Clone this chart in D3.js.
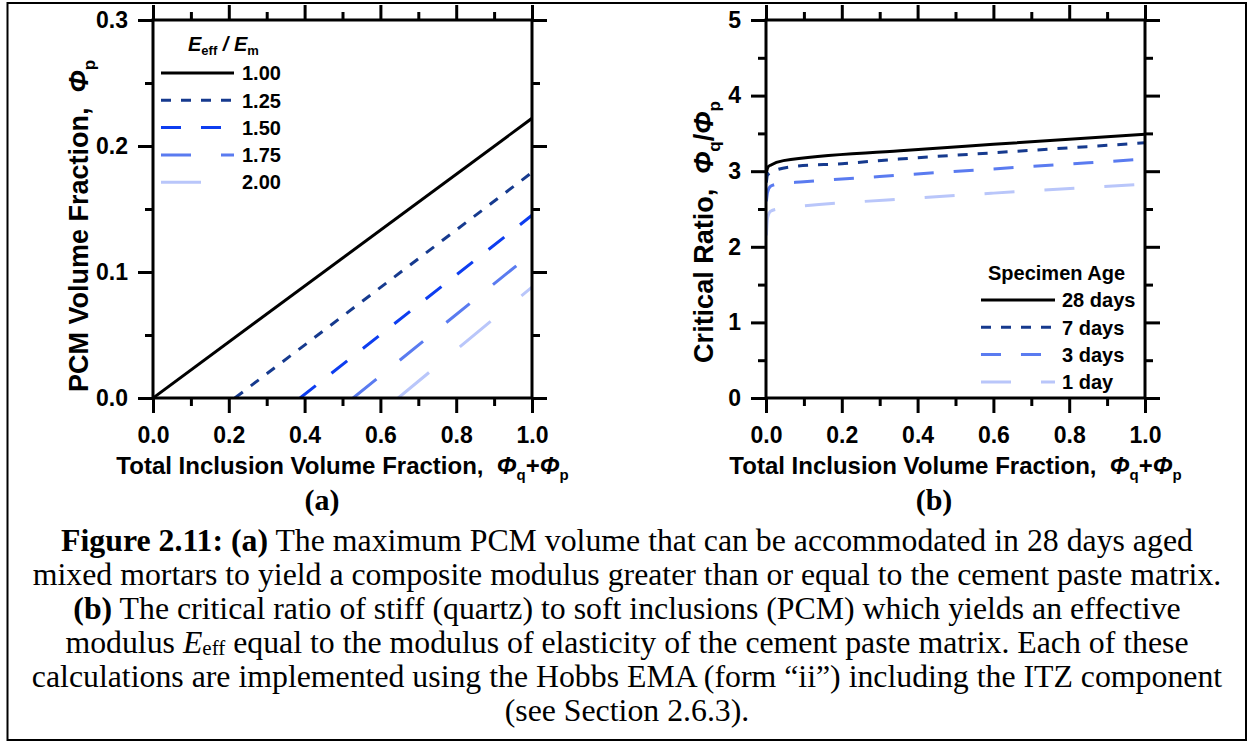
<!DOCTYPE html>
<html>
<head>
<meta charset="utf-8">
<script src="https://cdn.jsdelivr.net/npm/d3@7"></script>
<style>
  html, body { margin: 0; padding: 0; background: #fff; }
  svg { display: block; }
</style>
</head>
<body>
<svg id="chart" width="1253" height="742"></svg>
<script>
// ---------------- DATA ----------------
const xTickValues = [0, 0.2, 0.4, 0.6, 0.8, 1.0];
const xTickLabels = ["0.0", "0.2", "0.4", "0.6", "0.8", "1.0"];
const xMinorValues = [0.1, 0.3, 0.5, 0.7, 0.9];

const leftYTickValues = [0, 0.1, 0.2, 0.3];
const leftYTickLabels = ["0.0", "0.1", "0.2", "0.3"];
const leftYMinorValues = [0.05, 0.15, 0.25];

const rightYTickValues = [0, 1, 2, 3, 4, 5];
const rightYTickLabels = ["0", "1", "2", "3", "4", "5"];
const rightYMinorValues = [0.5, 1.5, 2.5, 3.5, 4.5];

// Panel (a): E_eff / E_m series, points [total inclusion fraction, PCM fraction]
const ratioLabels = ["1.00", "1.25", "1.50", "1.75", "2.00"];
const ratio100 = [[0.0, 0.0], [1.0, 0.222]];
const ratio125 = [[0.216, 0.0], [1.0, 0.179]];
const ratio150 = [[0.388, 0.0], [1.0, 0.145]];
const ratio175 = [[0.528, 0.0], [1.0, 0.115]];
const ratio200 = [[0.647, 0.0], [1.0, 0.088]];

// Panel (b): specimen age series, points [total inclusion fraction, critical ratio]
const ageLabels = ["28 days", "7 days", "3 days", "1 day"];
const age28 = [[0.001, 2.9], [0.002, 3.0], [0.006, 3.06], [0.012, 3.08], [0.046, 3.14], [0.354, 3.27], [0.6, 3.355], [1.0, 3.49]];
const age7  = [[0.001, 2.85], [0.004, 2.95], [0.02, 3.0], [0.07, 3.06], [0.2, 3.10], [0.35, 3.16], [0.65, 3.26], [1.0, 3.375]];
const age3  = [[0.001, 2.6], [0.004, 2.72], [0.012, 2.8], [0.03, 2.83], [0.1, 2.86], [0.3, 2.93], [0.6, 3.03], [1.0, 3.16]];
const age1  = [[0.001, 2.15], [0.004, 2.38], [0.012, 2.47], [0.03, 2.5], [0.1, 2.54], [0.32, 2.62], [0.6, 2.71], [1.0, 2.83]];

// ---------------- STYLES ----------------
const leftColors = ["#000000", "#163a8e", "#0d3df0", "#5a7bf0", "#b9c6fa"];
const leftDashes = [null, "10,10", "20,20", "30,30", "40,40"];
const rightColors = ["#000000", "#163a8e", "#5a7bf0", "#b9c6fa"];
const rightDashes = [null, "10,10", "20,20", "30,30"];

const SANS = "'Liberation Sans', Arial, sans-serif";
const SERIF = "'Liberation Serif', 'Times New Roman', serif";

const svg = d3.select("#chart");

// outer border
svg.append("rect")
  .attr("x", 7.5).attr("y", 3).attr("width", 1238.5).attr("height", 737)
  .attr("fill", "none").attr("stroke", "#000").attr("stroke-width", 2);

function drawPanel(opts) {
  const x = d3.scaleLinear().domain([0, 1]).range(opts.xRange);
  const y = d3.scaleLinear().domain(opts.yDomain).range([398, 20]);
  const g = svg.append("g");
  const [x0, x1] = opts.xRange;

  const clipId = "clip" + opts.id;
  svg.append("clipPath").attr("id", clipId)
    .append("rect").attr("x", x0).attr("y", 20).attr("width", x1 - x0).attr("height", 378);

  const line = d3.line().x(d => x(d[0])).y(d => y(d[1])).curve(d3.curveMonotoneX);
  const dataG = g.append("g").attr("clip-path", `url(#${clipId})`);
  opts.series.forEach((s, i) => {
    dataG.append("path")
      .datum(s)
      .attr("d", line)
      .attr("fill", "none")
      .attr("stroke", opts.colors[i])
      .attr("stroke-width", 3)
      .attr("stroke-dasharray", opts.dashes[i]);
  });

  const styleAxis = sel => {
    sel.select(".domain").remove();
    sel.selectAll("line").attr("stroke", "#000").attr("stroke-width", 3);
    sel.selectAll("text").attr("font-family", SANS).attr("font-size", 23)
      .attr("font-weight", "bold").attr("fill", "#000");
  };
  const xfmt = v => xTickLabels[xTickValues.indexOf(v)];
  const yfmt = v => opts.yLabels[opts.yTicks.indexOf(v)];

  g.append("g").attr("transform", "translate(0,398)")
    .call(d3.axisBottom(x).tickValues(xTickValues).tickSize(15).tickPadding(14).tickFormat(xfmt)).call(styleAxis);
  g.append("g").attr("transform", "translate(0,398)")
    .call(d3.axisBottom(x).tickValues(xMinorValues).tickSize(8).tickFormat("")).call(styleAxis);
  g.append("g").attr("transform", "translate(0,20)")
    .call(d3.axisTop(x).tickValues(xTickValues).tickSize(15).tickFormat("")).call(styleAxis);
  g.append("g").attr("transform", "translate(0,20)")
    .call(d3.axisTop(x).tickValues(xMinorValues).tickSize(8).tickFormat("")).call(styleAxis);
  g.append("g").attr("transform", `translate(${x0},0)`)
    .call(d3.axisLeft(y).tickValues(opts.yTicks).tickSize(15).tickPadding(opts.yPad).tickFormat(yfmt)).call(styleAxis);
  g.append("g").attr("transform", `translate(${x0},0)`)
    .call(d3.axisLeft(y).tickValues(opts.yMinor).tickSize(8).tickFormat("")).call(styleAxis);
  g.append("g").attr("transform", `translate(${x1},0)`)
    .call(d3.axisRight(y).tickValues(opts.yTicks).tickSize(15).tickFormat("")).call(styleAxis);
  g.append("g").attr("transform", `translate(${x1},0)`)
    .call(d3.axisRight(y).tickValues(opts.yMinor).tickSize(8).tickFormat("")).call(styleAxis);

  g.append("rect").attr("x", x0).attr("y", 20).attr("width", x1 - x0).attr("height", 378)
    .attr("fill", "none").attr("stroke", "#000").attr("stroke-width", 3);

  const xt = g.append("text").attr("x", (x0 + x1) / 2).attr("y", 474)
    .attr("text-anchor", "middle").attr("font-family", SANS).attr("font-weight", "bold")
    .attr("font-size", 24).attr("fill", "#000");
  xt.append("tspan").text("Total Inclusion Volume Fraction,\u00A0\u00A0");
  xt.append("tspan").attr("font-style", "italic").text("\u03A6");
  xt.append("tspan").attr("font-size", 15).attr("dy", 6).text("q");
  xt.append("tspan").attr("dy", -6).text("+");
  xt.append("tspan").attr("font-style", "italic").text("\u03A6");
  xt.append("tspan").attr("font-size", 15).attr("dy", 6).text("p");

  const yt = g.append("text")
    .attr("transform", `translate(${opts.yTitleX},${opts.yTitleY}) rotate(-90)`)
    .attr("text-anchor", "middle").attr("font-family", SANS).attr("font-weight", "bold")
    .attr("font-size", 27).attr("fill", "#000");
  opts.yTitle(yt);

  return { x, y, g };
}

drawPanel({
  id: "a", xRange: [153, 532], yDomain: [0, 0.3],
  yTicks: leftYTickValues, yLabels: leftYTickLabels, yMinor: leftYMinorValues, yPad: 10,
  series: [ratio100, ratio125, ratio150, ratio175, ratio200],
  colors: leftColors, dashes: leftDashes,
  yTitleX: 88, yTitleY: 226,
  yTitle: t => {
    t.append("tspan").text("PCM Volume Fraction,\u00A0\u00A0");
    t.append("tspan").attr("font-style", "italic").text("\u03A6");
    t.append("tspan").attr("font-size", 17).attr("dy", 7).text("p");
  }
});

drawPanel({
  id: "b", xRange: [766, 1145], yDomain: [0, 5],
  yTicks: rightYTickValues, yLabels: rightYTickLabels, yMinor: rightYMinorValues, yPad: 10,
  series: [age28, age7, age3, age1],
  colors: rightColors, dashes: rightDashes,
  yTitleX: 713, yTitleY: 232,
  yTitle: t => {
    t.append("tspan").text("Critical Ratio,\u00A0\u00A0");
    t.append("tspan").attr("font-style", "italic").text("\u03A6");
    t.append("tspan").attr("font-size", 17).attr("dy", 7).text("q");
    t.append("tspan").attr("dy", -7).text("/");
    t.append("tspan").attr("font-style", "italic").text("\u03A6");
    t.append("tspan").attr("font-size", 17).attr("dy", 7).text("p");
  }
});

// ---------------- LEGENDS ----------------
function legend(items, colors, dashes, lx0, lx1, tx, y0, step) {
  items.forEach((lab, i) => {
    const yy = y0 + i * step;
    svg.append("line").attr("x1", lx0).attr("x2", lx1).attr("y1", yy).attr("y2", yy)
      .attr("stroke", colors[i]).attr("stroke-width", 3).attr("stroke-dasharray", dashes[i]);
    svg.append("text").attr("x", tx).attr("y", yy).attr("dy", "0.36em")
      .attr("font-family", SANS).attr("font-weight", "bold").attr("font-size", 20)
      .attr("fill", "#000").text(lab);
  });
}

const lt = svg.append("text").attr("x", 188).attr("y", 51)
  .attr("font-family", SANS).attr("font-weight", "bold").attr("font-size", 20).attr("fill", "#000");
lt.append("tspan").attr("font-style", "italic").text("E");
lt.append("tspan").attr("font-size", 13).attr("dy", 4).text("eff");
lt.append("tspan").attr("dy", -4).attr("font-style", "italic").text("\u00A0/\u00A0E");
lt.append("tspan").attr("font-size", 13).attr("dy", 4).text("m");
legend(ratioLabels, leftColors, leftDashes, 161, 234, 242, 73, 27.3);

svg.append("text").attr("x", 988).attr("y", 273).attr("dy", "0.36em")
  .attr("font-family", SANS).attr("font-weight", "bold").attr("font-size", 20)
  .attr("fill", "#000").text("Specimen Age");
legend(ageLabels, rightColors, rightDashes, 981, 1055, 1062, 300, 27.3);

// ---------------- PANEL LETTERS & CAPTION ----------------
[["(a)", 322], ["(b)", 934]].forEach(([t, cx]) => {
  svg.append("text").attr("x", cx).attr("y", 510).attr("text-anchor", "middle")
    .attr("font-family", SERIF).attr("font-weight", "bold").attr("font-size", 30)
    .attr("fill", "#000").text(t);
});

const capLines = [
  [["b", "Figure 2.11: (a)"], ["n", " The maximum PCM volume that can be accommodated in 28 days aged"]],
  [["n", "mixed mortars to yield a composite modulus greater than or equal to the cement paste matrix."]],
  [["b", "(b)"], ["n", " The critical ratio of stiff (quartz) to soft inclusions (PCM) which yields an effective"]],
  [["n", "modulus "], ["i", "E"], ["s", "eff"], ["r", " equal to the modulus of elasticity of the cement paste matrix. Each of these"]],
  [["n", "calculations are implemented using the Hobbs EMA (form \u201Cii\u201D) including the ITZ component"]],
  [["n", "(see Section 2.6.3)."]]
];
capLines.forEach((parts, i) => {
  const t = svg.append("text").attr("x", 627).attr("y", 551 + i * 34)
    .attr("text-anchor", "middle").attr("font-family", SERIF).attr("font-size", 31.8).attr("fill", "#000");
  parts.forEach(([k, s]) => {
    const ts = t.append("tspan").text(s);
    if (k === "b") ts.attr("font-weight", "bold");
    if (k === "i") ts.attr("font-style", "italic");
    if (k === "s") ts.attr("font-size", 21).attr("dy", 2);
    if (k === "r") ts.attr("dy", -2);
  });
});
</script>
</body>
</html>
